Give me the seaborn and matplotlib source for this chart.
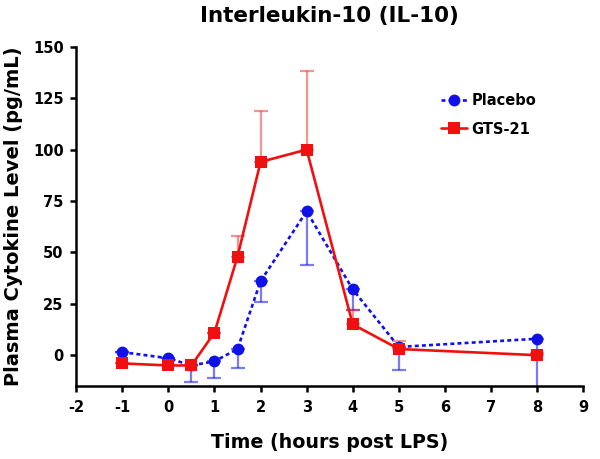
import numpy as np
import pandas as pd
import matplotlib
matplotlib.use('Agg')
import matplotlib.pyplot as plt
import seaborn as sns

# --- Data --------------------------------------------------------------------
time_h = [-1, 0, 0.5, 1, 1.5, 2, 3, 4, 5, 8]
placebo_mean = [1.5, -1.5, -5, -3, 3, 36, 70, 32, 4, 8]
placebo_err = [0, 0, 8, 8, 9, 10, 26, 10, 11, 25]        # plotted downward
gts21_mean = [-4, -5, -5, 11, 48, 94, 100, 15, 3, 0]
gts21_err = [0, 0, 0, 0, 10, 25, 38, 7, 4, 1]             # plotted upward

BLUE = '#1010E8'
RED = '#F01010'

sns.set_theme(style='ticks')
plt.rcParams.update({
    'font.family': ['DejaVu Sans'],
    'font.weight': 'bold',
    'axes.unicode_minus': False,
    'text.color': 'black',
    'axes.labelcolor': 'black',
    'xtick.color': 'black',
    'ytick.color': 'black',
})

df = pd.DataFrame({
    'Time': time_h * 2,
    'Level': placebo_mean + gts21_mean,
    'Group': ['Placebo'] * len(time_h) + ['GTS-21'] * len(time_h),
})

fig = plt.figure(figsize=(6.0, 4.59), dpi=100)
ax = fig.add_axes([0.127, 0.159, 0.845, 0.739])

# one-sided error bars (lighter)
ax.errorbar(time_h, placebo_mean, yerr=[placebo_err, [0] * len(time_h)],
            fmt='none', ecolor=BLUE, alpha=0.55, elinewidth=1.6, capsize=5, capthick=1.6, zorder=1)
ax.errorbar(time_h, gts21_mean, yerr=[[0] * len(time_h), gts21_err],
            fmt='none', ecolor=RED, alpha=0.45, elinewidth=1.6, capsize=5, capthick=1.6, zorder=1)

sns.lineplot(data=df, x='Time', y='Level', hue='Group', style='Group',
             palette={'Placebo': BLUE, 'GTS-21': RED},
             dashes={'Placebo': (1.5, 1.2), 'GTS-21': ''},
             markers={'Placebo': 'o', 'GTS-21': 's'},
             markersize=8.5, markeredgewidth=0, linewidth=1.9, ax=ax, zorder=3)

ax.set_xlim(-2, 9)
ax.set_ylim(-15, 150)
ax.set_xticks(range(-2, 10))
ax.set_yticks([0, 25, 50, 75, 100, 125, 150])
ax.tick_params(axis='both', labelsize=10.5, width=1.8, length=4, direction='out')
ax.tick_params(axis='x', pad=6)
ax.tick_params(axis='y', pad=5)
for lbl in ax.get_xticklabels() + ax.get_yticklabels():
    lbl.set_fontweight('bold')
for s in ['left', 'bottom']:
    ax.spines[s].set_linewidth(1.8)
    ax.spines[s].set_color('black')
sns.despine(ax=ax)

ax.set_xlabel('Time (hours post LPS)', fontsize=13.7, fontweight='bold', labelpad=13)
ax.set_ylabel('Plasma Cytokine Level (pg/mL)', fontsize=14, fontweight='bold', labelpad=7)
ax.set_title('Interleukin-10 (IL-10)', fontsize=15.5, fontweight='bold', pad=18)

leg = ax.legend(loc='upper left', bbox_to_anchor=(0.713, 0.825), bbox_transform=fig.transFigure,
                frameon=False, fontsize=10.5, handlelength=1.8, handletextpad=0.3,
                labelspacing=0.9)
for t in leg.get_texts():
    t.set_fontweight('bold')

fig.savefig('out.png', dpi=100)
